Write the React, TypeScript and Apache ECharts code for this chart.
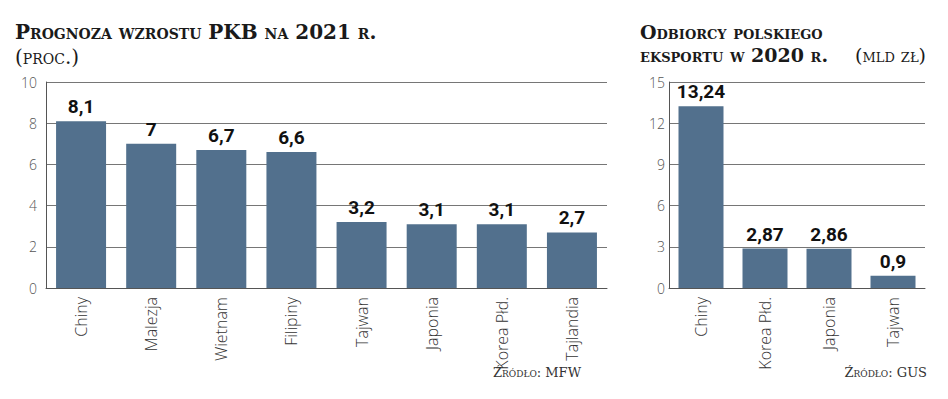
import React, { useEffect, useRef } from 'react';
import * as echarts from 'echarts';

const gdpCategories = ['Chiny', 'Malezja', 'Wietnam', 'Filipiny', 'Tajwan', 'Japonia', 'Korea Płd.', 'Tajlandia'];
const gdpValues = [8.1, 7, 6.7, 6.6, 3.2, 3.1, 3.1, 2.7];
const gdpAxis = { min: 0, max: 10, interval: 2 };

const exportCategories = ['Chiny', 'Korea Płd.', 'Japonia', 'Tajwan'];
const exportValues = [13.24, 2.87, 2.86, 0.9];
const exportAxis = { min: 0, max: 15, interval: 3 };

const BAR = '#52708d';
const AXIS = '#555';
const GRIDLINE = '#767676';
const SERIF = "'DejaVu Serif', serif";
const TITLE_BOLD = `small-caps bold 20px ${SERIF}`;
const TITLE_REG = `small-caps normal 20px ${SERIF}`;
const TITLE2_BOLD = `small-caps bold 19px ${SERIF}`;
const TITLE2_REG = `small-caps normal 19px ${SERIF}`;
const SRC = `small-caps normal 13px ${SERIF}`;

const fmt = (p: any) => String(p.value).replace('.', ',');

export default function App() {
  const ref = useRef<HTMLDivElement>(null);
  useEffect(() => {
    document.body.style.margin = '0';
    const chart = echarts.init(ref.current!, null, { renderer: 'svg' });
    const yAxisCommon = {
      type: 'value',
      axisLine: { show: true, lineStyle: { color: AXIS, width: 1 } },
      axisTick: { show: false },
      splitLine: { show: true, lineStyle: { color: GRIDLINE, width: 1 } },
      axisLabel: { color: '#555', fontFamily: 'Open Sans', fontWeight: 300, fontSize: 14 },
    };
    const xAxisCommon = {
      type: 'category',
      axisLine: { show: true, lineStyle: { color: AXIS, width: 1 } },
      axisTick: { show: false },
      axisLabel: { rotate: 90, margin: 9, color: '#333', fontFamily: 'Open Sans', fontWeight: 300, fontSize: 16, interval: 0 },
    };
    const labelCommon = {
      show: true,
      position: 'top',
      distance: 5,
      color: '#111',
      fontFamily: 'Roboto',
      fontWeight: 'bold',
      fontSize: 19,
      formatter: fmt,
    };
    chart.setOption({
      animation: false,
      grid: [
        { left: 46, top: 82, width: 561, height: 206 },
        { left: 669, top: 82, width: 256, height: 206 },
      ],
      xAxis: [
        { ...xAxisCommon, gridIndex: 0, data: gdpCategories },
        { ...xAxisCommon, gridIndex: 1, data: exportCategories },
      ],
      yAxis: [
        { ...yAxisCommon, gridIndex: 0, ...gdpAxis, axisLabel: { ...yAxisCommon.axisLabel, margin: 9 } },
        { ...yAxisCommon, gridIndex: 1, ...exportAxis, axisLabel: { ...yAxisCommon.axisLabel, margin: 4 } },
      ],
      series: [
        {
          type: 'bar', xAxisIndex: 0, yAxisIndex: 0, data: gdpValues, barWidth: 50,
          itemStyle: { color: BAR }, label: labelCommon,
        },
        {
          type: 'bar', xAxisIndex: 1, yAxisIndex: 1, data: exportValues, barWidth: 45,
          itemStyle: { color: BAR }, label: labelCommon,
        },
      ],
      graphic: [
        { type: 'text', left: 15, top: 22, style: { text: 'Prognoza wzrostu PKB na 2021 r.', font: TITLE_BOLD, fill: '#1a1a1a' } },
        { type: 'text', left: 15, top: 47, style: { text: '(proc.)', font: TITLE_REG, fill: '#1a1a1a' } },
        { type: 'text', left: 640, top: 22, style: { text: 'Odbiorcy polskiego', font: TITLE2_BOLD, fill: '#1a1a1a' } },
        { type: 'text', left: 640, top: 45, style: { text: 'eksportu w 2020 r.', font: TITLE2_BOLD, fill: '#1a1a1a' } },
        { type: 'text', right: 948 - 926, top: 45, style: { text: '(mld zł)', font: TITLE2_REG, fill: '#1a1a1a' } },
        { type: 'text', right: 948 - 581, top: 366, style: { text: 'Źródło: MFW', font: SRC, fill: '#333' } },
        { type: 'text', right: 948 - 927, top: 366, style: { text: 'Źródło: GUS', font: SRC, fill: '#333' } },
      ],
    });
    return () => chart.dispose();
  }, []);
  return <div ref={ref} style={{ width: 948, height: 399 }} />;
}
